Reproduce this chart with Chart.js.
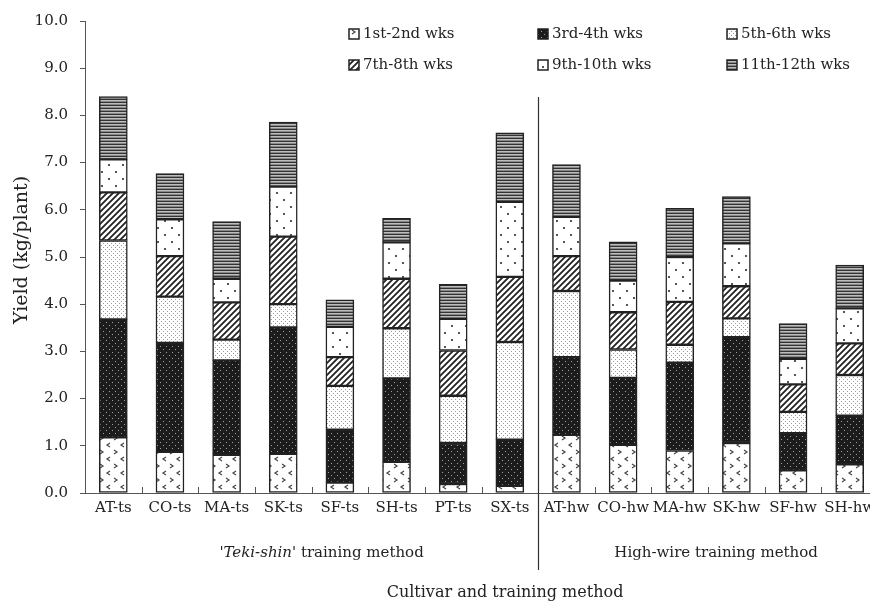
<!DOCTYPE html>
<html>
<head>
<meta charset="utf-8">
<script src="https://cdn.jsdelivr.net/npm/chart.js@4.4.0/dist/chart.umd.min.js"></script>
<style>
  html, body { margin: 0; padding: 0; overflow: hidden; background: #fff; }
  #wrap { position: absolute; left: 0; top: 0; width: 890px; height: 608px; }
</style>
</head>
<body>
<div id="wrap"><canvas id="yield"></canvas></div>
<script>
// cultivars (categories)
const cultivars = ['AT-ts', 'CO-ts', 'MA-ts', 'SK-ts', 'SF-ts', 'SH-ts', 'PT-ts', 'SX-ts',
                   'AT-hw', 'CO-hw', 'MA-hw', 'SK-hw', 'SF-hw', 'SH-hw'];

// yield per two-week period (kg/plant)
const wk1_2   = [1.18, 0.87, 0.81, 0.83, 0.22, 0.66, 0.19, 0.15, 1.23, 1.02, 0.90, 1.06, 0.48, 0.61];
const wk3_4   = [2.50, 2.31, 2.00, 2.68, 1.12, 1.77, 0.87, 0.98, 1.65, 1.42, 1.86, 2.24, 0.79, 1.03];
const wk5_6   = [1.67, 0.98, 0.44, 0.49, 0.93, 1.06, 1.00, 2.07, 1.40, 0.60, 0.38, 0.40, 0.45, 0.86];
const wk7_8   = [1.02, 0.86, 0.79, 1.43, 0.61, 1.05, 0.96, 1.38, 0.74, 0.79, 0.91, 0.68, 0.58, 0.67];
const wk9_10  = [0.70, 0.78, 0.50, 1.06, 0.64, 0.77, 0.67, 1.59, 0.83, 0.67, 0.95, 0.91, 0.54, 0.74];
const wk11_12 = [1.33, 0.97, 1.21, 1.37, 0.57, 0.51, 0.73, 1.46, 1.11, 0.82, 1.03, 0.99, 0.75, 0.92];

const periodLabels = ['1st-2nd wks', '3rd-4th wks', '5th-6th wks', '7th-8th wks', '9th-10th wks', '11th-12th wks'];
const yTicks = [0, 1, 2, 3, 4, 5, 6, 7, 8, 9, 10];

const FONT = '"DejaVu Serif", serif';
const INK = '#222';

// hatch patterns for the grayscale print look
function tile(w, h, draw) {
  const c = document.createElement('canvas');
  c.width = w; c.height = h;
  const g = c.getContext('2d');
  draw(g);
  return document.createElement('canvas').getContext('2d').createPattern(c, 'repeat');
}

const patterns = [
  // little chevrons on white
  tile(14, 14, g => {
    g.fillStyle = '#fff'; g.fillRect(0, 0, 14, 14);
    g.strokeStyle = '#444'; g.lineWidth = 1.2;
    g.beginPath();
    g.moveTo(2, 2); g.lineTo(5, 4); g.lineTo(2, 6);
    g.moveTo(12, 9); g.lineTo(9, 11); g.lineTo(12, 13);
    g.stroke();
  }),
  // light dots on black
  tile(6, 6, g => {
    g.fillStyle = '#1c1c1c'; g.fillRect(0, 0, 6, 6);
    g.fillStyle = '#a0a0a0';
    g.fillRect(1, 1, 1, 1); g.fillRect(4, 4, 1, 1);
  }),
  // dense light dots
  tile(4, 4, g => {
    g.fillStyle = '#fff'; g.fillRect(0, 0, 4, 4);
    g.fillStyle = '#999';
    g.fillRect(1, 1, 1, 1); g.fillRect(3, 3, 1, 1);
  }),
  // diagonal stripes
  tile(6, 6, g => {
    g.fillStyle = '#fff'; g.fillRect(0, 0, 6, 6);
    g.strokeStyle = '#222'; g.lineWidth = 1.8;
    g.beginPath();
    g.moveTo(-1, 7); g.lineTo(7, -1);
    g.moveTo(-4, 4); g.lineTo(4, -4);
    g.moveTo(2, 10); g.lineTo(10, 2);
    g.stroke();
  }),
  // sparse dots on white
  tile(14, 14, g => {
    g.fillStyle = '#fff'; g.fillRect(0, 0, 14, 14);
    g.fillStyle = '#555';
    g.fillRect(3, 3, 2, 2); g.fillRect(10, 10, 2, 2);
  }),
  // horizontal stripes
  tile(2, 3, g => {
    g.fillStyle = '#bdbdbd'; g.fillRect(0, 0, 2, 3);
    g.fillStyle = '#333'; g.fillRect(0, 0, 2, 1);
    g.fillStyle = '#888'; g.fillRect(0, 2, 2, 1);
  })
];

const seriesData = [wk1_2, wk3_4, wk5_6, wk7_8, wk9_10, wk11_12];

const datasets = seriesData.map((d, i) => ({
  label: periodLabels[i],
  data: d,
  backgroundColor: patterns[i],
  borderColor: INK,
  borderWidth: 1.5,
  borderSkipped: false,
  barThickness: 28
}));

// extra drawing: legend grid, inward x ticks, divider, group labels, axis titles
const extras = {
  id: 'extras',
  afterDraw(chart) {
    const ctx = chart.ctx;
    const x = chart.scales.x;
    const area = chart.chartArea;
    const step = x.getPixelForValue(1) - x.getPixelForValue(0);
    ctx.save();

    // inward ticks on x axis at category boundaries
    ctx.strokeStyle = '#555'; ctx.lineWidth = 1;
    ctx.beginPath();
    for (let i = 1; i < cultivars.length; i++) {
      const px = Math.round(x.getPixelForValue(i) - step / 2) + 0.5;
      ctx.moveTo(px, area.bottom); ctx.lineTo(px, area.bottom - 6);
    }
    ctx.stroke();

    // divider between the two training methods
    const divX = Math.round(x.getPixelForValue(7.5)) + 0.5;
    ctx.strokeStyle = '#333'; ctx.lineWidth = 1.2;
    ctx.beginPath();
    ctx.moveTo(divX, 97); ctx.lineTo(divX, 570);
    ctx.stroke();

    // legend
    const cols = [349, 538, 727];
    const rows = [34, 65];
    ctx.font = '15px ' + FONT;
    ctx.textBaseline = 'middle';
    ctx.textAlign = 'left';
    periodLabels.forEach((lab, i) => {
      const bx = cols[i % 3], by = rows[Math.floor(i / 3)];
      ctx.fillStyle = patterns[i];
      ctx.fillRect(bx, by - 5, 10, 10);
      ctx.strokeStyle = INK; ctx.lineWidth = 1.5;
      ctx.strokeRect(bx, by - 5, 10, 10);
      ctx.fillStyle = INK;
      ctx.fillText(lab, bx + 14, by);
    });

    // group labels
    ctx.textBaseline = 'middle';
    const g1 = (x.getPixelForValue(0) + x.getPixelForValue(7)) / 2 + 10;
    const italicPart = "'Teki-shin'";
    const restPart = ' training method';
    ctx.font = 'italic 15px ' + FONT;
    const w1 = ctx.measureText(italicPart).width;
    ctx.font = '15px ' + FONT;
    const w2 = ctx.measureText(restPart).width;
    const sx = g1 - (w1 + w2) / 2;
    ctx.textAlign = 'left';
    ctx.font = 'italic 15px ' + FONT;
    ctx.fillText(italicPart, sx, 553);
    ctx.font = '15px ' + FONT;
    ctx.fillText(restPart, sx + w1, 553);

    ctx.textAlign = 'center';
    const g2 = (x.getPixelForValue(8) + x.getPixelForValue(13)) / 2 + 8;
    ctx.fillText('High-wire training method', g2, 553);

    // axis titles
    ctx.font = '16px ' + FONT;
    ctx.fillText('Cultivar and training method', 505, 593);
    ctx.translate(22, 250);
    ctx.rotate(-Math.PI / 2);
    ctx.font = '19px ' + FONT;
    ctx.fillText('Yield (kg/plant)', 0, 0);
    ctx.restore();
  }
};

new Chart(document.getElementById('yield'), {
  type: 'bar',
  data: { labels: cultivars, datasets: datasets },
  plugins: [extras],
  options: {
    responsive: true,
    maintainAspectRatio: false,
    animation: false,
    layout: { padding: { top: 16, right: 12, left: 0, bottom: 0 } },
    plugins: {
      legend: { display: false },
      tooltip: { enabled: false }
    },
    scales: {
      x: {
        stacked: true,
        afterFit: s => { s.height = 115; },
        grid: { display: false, drawTicks: false },
        border: { color: '#555', width: 1 },
        ticks: {
          color: INK, padding: 6, maxRotation: 0, autoSkip: false,
          font: { family: FONT, size: 15 }
        }
      },
      y: {
        stacked: true,
        min: 0, max: 10,
        afterFit: s => { s.width = 85; },
        afterBuildTicks: s => { s.ticks = yTicks.map(v => ({ value: v })); },
        grid: { drawOnChartArea: false, drawTicks: true, tickLength: 5, color: '#555' },
        border: { color: '#555', width: 1 },
        ticks: {
          color: INK, padding: 12,
          font: { family: FONT, size: 15 },
          callback: v => v.toFixed(1)
        }
      }
    }
  }
});
</script>
</body>
</html>
